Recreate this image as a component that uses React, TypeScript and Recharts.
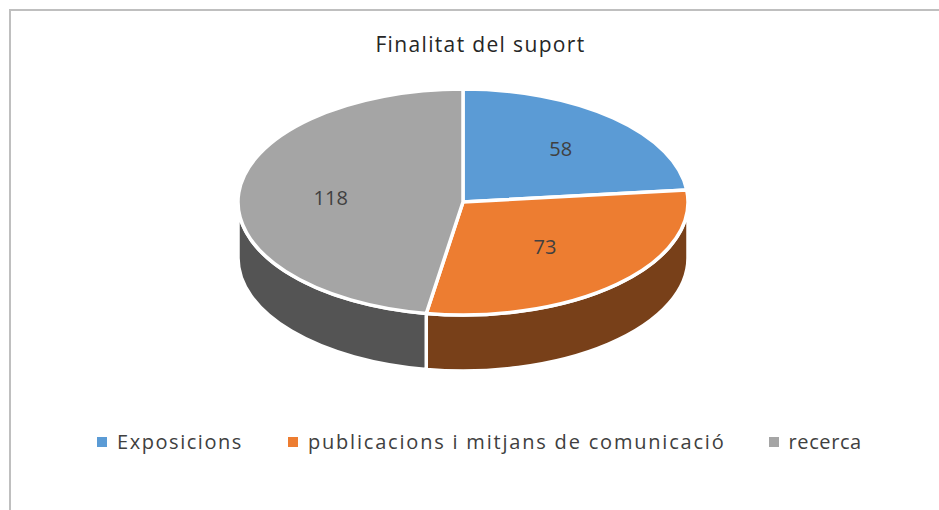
import { PieChart, Pie, Legend } from 'recharts';

const names = ['Exposicions', 'publicacions i mitjans de comunicació', 'recerca'];
const values = [58, 73, 118];
const topColors = ['#5b9bd5', '#ed7d31', '#a5a5a5'];
const wallColors = ['#335a7e', '#784019', '#545454'];
const labelRadius = [0.65, 0.53, 0.59];

const topData = names.map((name, i) => ({ name, value: values[i], fill: topColors[i] }));
const wallData = names.map((name, i) => ({ name, value: values[i], fill: wallColors[i] }));

const FONT = '"Open Sans", sans-serif';
const SQUASH = 0.502;
const DEPTH = 56;

const toPoint = (cx: number, cy: number, r: number, angle: number) => {
  const rad = (angle * Math.PI) / 180;
  return [cx + r * Math.cos(rad), cy - r * SQUASH * Math.sin(rad)];
};

// top face: a regular sector flattened into an ellipse
const TopSlice = (props: any) => {
  const { cx, cy, outerRadius: r, startAngle, endAngle, fill } = props;
  const [x1, y1] = toPoint(cx, cy, r, startAngle);
  const [x2, y2] = toPoint(cx, cy, r, endAngle);
  const large = Math.abs(startAngle - endAngle) > 180 ? 1 : 0;
  const ry = r * SQUASH;
  return (
    <path
      d={`M${cx},${cy} L${x1},${y1} A${r},${ry} 0 ${large} 1 ${x2},${y2} Z`}
      fill={fill}
      stroke="#fff"
      strokeWidth={3.5}
      strokeLinejoin="round"
    />
  );
};

// side wall: only the front half of the rim can be seen
const WallSlice = (props: any) => {
  const { cx, cy, outerRadius: r, startAngle, endAngle, fill } = props;
  const from = Math.min(startAngle, 0);
  const to = Math.max(endAngle, -180);
  if (from <= to) return null;
  const [x1, y1] = toPoint(cx, cy, r, from);
  const [x2, y2] = toPoint(cx, cy, r, to);
  const ry = r * SQUASH;
  return (
    <path
      d={`M${x1},${y1} A${r},${ry} 0 0 1 ${x2},${y2} L${x2},${y2 + DEPTH} A${r},${ry} 0 0 0 ${x1},${y1 + DEPTH} Z`}
      fill={fill}
      stroke="#fff"
      strokeWidth={3.5}
    />
  );
};

const renderValue = (props: any) => {
  const { cx, cy, outerRadius: r, midAngle, value, index } = props;
  const [x, y] = toPoint(cx, cy, r * labelRadius[index], midAngle);
  return (
    <text x={x} y={y + 1} textAnchor="middle" dominantBaseline="central" fontFamily={FONT} fontSize={20} fill="#404040">
      {value}
    </text>
  );
};

const legendGaps = [45, 43, 0];
const legendSpacing = [1.55, 1.8, 0.6];

const renderLegend = ({ payload }: any) => {
  // the wall pie also lands in the payload, only the top faces belong in the legend
  const items = (payload || []).filter((item: any) => topColors.includes(item.color));
  return (
    <div style={{ display: 'flex', alignItems: 'center', fontFamily: FONT, fontSize: 20, color: '#404040', whiteSpace: 'nowrap' }}>
      {items.map((item: any, i: number) => (
        <span key={item.value} style={{ display: 'flex', alignItems: 'center', marginRight: legendGaps[i], letterSpacing: legendSpacing[i] }}>
          <span style={{ width: 10, height: 10, background: item.color, marginRight: 10, display: 'inline-block' }} />
          {item.value}
        </span>
      ))}
    </div>
  );
};

export default function App() {
  return (
    <div style={{ position: 'absolute', left: 0, top: 0, width: 939, height: 510, background: '#fff', overflow: 'hidden' }}>
      <div style={{ position: 'absolute', left: 9, top: 9, width: 940, height: 510, border: '2px solid #bfbfbf' }} />
      <PieChart width={939} height={510} margin={{ top: 0, right: 0, bottom: 0, left: 0 }}>
        <text x={480.5} y={44} textAnchor="middle" dominantBaseline="central" fontFamily={FONT} fontSize={21} letterSpacing={1.35} fill="#262626">
          Finalitat del suport
        </text>
        <Pie
          data={wallData}
          dataKey="value"
          nameKey="name"
          cx={463}
          cy={202}
          outerRadius={225}
          startAngle={90}
          endAngle={-270}
          shape={WallSlice}
          legendType="none"
          label={false}
          labelLine={false}
          isAnimationActive={false}
        />
        <Pie
          data={topData}
          dataKey="value"
          nameKey="name"
          cx={463}
          cy={202}
          outerRadius={225}
          startAngle={90}
          endAngle={-270}
          shape={TopSlice}
          label={renderValue}
          labelLine={false}
          isAnimationActive={false}
        />
        <Legend content={renderLegend} wrapperStyle={{ position: 'absolute', left: 97, top: 428, width: 800, bottom: 'auto' }} />
      </PieChart>
    </div>
  );
}
